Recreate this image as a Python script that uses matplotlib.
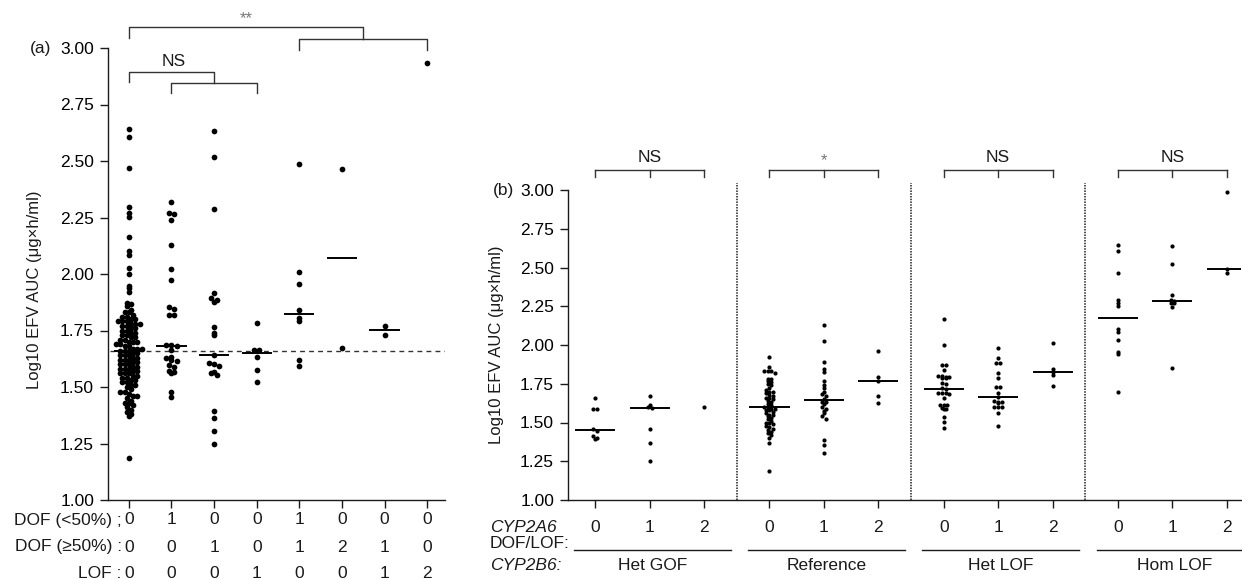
import numpy as np
import matplotlib.pyplot as plt
from matplotlib.transforms import blended_transform_factory

plt.rcParams['font.family'] = ['Liberation Sans', 'DejaVu Sans']
plt.rcParams['font.size'] = 12

# ---------------- panel (a): CYP2B6 DOF / LOF alleles ----------------
dof_lt50 = [0, 1, 0, 0, 1, 0, 0, 0]
dof_ge50 = [0, 0, 1, 0, 1, 2, 1, 0]
lof_cnt = [0, 0, 0, 1, 0, 0, 1, 2]
row_names = ['DOF (<50%) ;', 'DOF (\u226550%) :', 'LOF :']

a_vals = [
    # 0/0/0 (reference genotype)
    [2.64, 2.605, 2.468, 2.295, 2.271, 2.254, 2.165, 2.103, 2.084, 2.028, 2.0,
     1.948, 1.937, 1.920, 1.870, 1.867, 1.858,
     1.84, 1.83, 1.83, 1.82, 1.81, 1.81, 1.80, 1.80, 1.79, 1.79, 1.79, 1.78,
     1.78, 1.78, 1.77, 1.77, 1.76, 1.76, 1.75, 1.75, 1.74, 1.74, 1.73, 1.73,
     1.72, 1.72, 1.71, 1.71, 1.70, 1.70, 1.70, 1.69, 1.69, 1.68, 1.68, 1.67,
     1.67, 1.67, 1.66, 1.66, 1.66, 1.65, 1.65, 1.64, 1.64, 1.64, 1.63, 1.63,
     1.62, 1.62, 1.62, 1.61, 1.61, 1.60, 1.60, 1.60, 1.59, 1.59, 1.58, 1.58,
     1.58, 1.57, 1.57, 1.56, 1.56, 1.56, 1.55, 1.55, 1.54, 1.54, 1.53, 1.53,
     1.52, 1.52, 1.51, 1.51, 1.50, 1.49, 1.48, 1.48, 1.47, 1.46, 1.46, 1.45,
     1.44, 1.43, 1.43, 1.42, 1.41, 1.40, 1.39, 1.38, 1.37, 1.187],
    [2.317, 2.268, 2.264, 2.239, 2.128, 2.024, 1.973, 1.852, 1.843, 1.818, 1.818,
     1.686, 1.686, 1.68, 1.664, 1.634, 1.627, 1.62, 1.613, 1.597, 1.589, 1.572,
     1.568, 1.560, 1.479, 1.457],
    [2.634, 2.516, 2.286, 1.914, 1.893, 1.884, 1.875, 1.767, 1.740, 1.730, 1.640,
     1.605, 1.600, 1.595, 1.568, 1.560, 1.553, 1.395, 1.362, 1.305, 1.248],
    [1.781, 1.665, 1.665, 1.633, 1.577, 1.522],
    [2.485, 2.008, 1.957, 1.840, 1.807, 1.791, 1.618, 1.595],
    [2.465, 1.673],
    [1.769, 1.732],
    [2.932],
]

# ---------------- panel (b): CYP2A6 x CYP2B6 ----------------
b_groups = ['Het GOF', 'Reference', 'Het LOF', 'Hom LOF']
cyp2a6 = [0, 1, 2]
b_sig = ['NS', '*', 'NS', 'NS']
b_vals = [
    [[1.656, 1.585, 1.585, 1.455, 1.445, 1.413, 1.40, 1.395],
     [1.671, 1.613, 1.602, 1.592, 1.458, 1.365, 1.253],
     [1.598]],
    [[1.921, 1.86, 1.835, 1.83, 1.83, 1.82, 1.78, 1.78, 1.77, 1.76, 1.75, 1.74,
      1.72, 1.71, 1.70, 1.70, 1.69, 1.68, 1.67, 1.66, 1.66, 1.65, 1.64, 1.63,
      1.62, 1.61, 1.60, 1.59, 1.59, 1.59, 1.58, 1.58, 1.57, 1.56, 1.55, 1.55,
      1.54, 1.53, 1.52, 1.51, 1.50, 1.50, 1.49, 1.48, 1.47, 1.46, 1.45, 1.44,
      1.43, 1.42, 1.40, 1.37, 1.19],
     [2.129, 2.028, 1.892, 1.843, 1.824, 1.77, 1.742, 1.72, 1.70, 1.685, 1.67,
      1.65, 1.635, 1.63, 1.62, 1.60, 1.59, 1.575, 1.56, 1.54, 1.525, 1.39,
      1.355, 1.305],
     [1.961, 1.792, 1.77, 1.67, 1.625]],
    [[2.166, 2.0, 1.871, 1.871, 1.839, 1.80, 1.80, 1.796, 1.796, 1.79, 1.79,
      1.753, 1.75, 1.72, 1.718, 1.69, 1.69, 1.69, 1.685, 1.656, 1.615, 1.615,
      1.61, 1.594, 1.59, 1.585, 1.534, 1.505, 1.462],
     [1.979, 1.915, 1.886, 1.882, 1.817, 1.785, 1.731, 1.727, 1.688, 1.667,
      1.64, 1.635, 1.63, 1.625, 1.602, 1.600, 1.598, 1.563, 1.48],
     [2.015, 1.843, 1.828, 1.806, 1.735]],
    [[2.645, 2.608, 2.467, 2.29, 2.27, 2.25, 2.103, 2.084, 2.03, 1.953, 1.942,
      1.695],
     [2.639, 2.52, 2.323, 2.29, 2.285, 2.269, 2.269, 2.243, 1.853],
     [2.989, 2.489, 2.467]],
]

W, H = 1242, 579
ink = '#1a1a1a'


def fx(px):
    return px / W


def fy(py):
    return 1 - py / H


def swarm(vals, bin_h, step):
    # Prism-like column scatter: points in the same value bin sit side by side
    vals = np.asarray(vals, dtype=float)
    bins = np.round(vals / bin_h).astype(int)
    offs = np.zeros(len(vals))
    for b in np.unique(bins):
        idx = np.where(bins == b)[0]
        offs[idx] = (np.arange(len(idx)) - (len(idx) - 1) / 2) * step
    return offs


def style_axis(ax):
    for s in ['top', 'right']:
        ax.spines[s].set_visible(False)
    for s in ['left', 'bottom']:
        ax.spines[s].set_color(ink)
        ax.spines[s].set_linewidth(1)
    ax.set_ylim(1.0, 3.0)
    ax.set_yticks(np.arange(1.0, 3.01, 0.25))
    ax.set_yticklabels(['%.2f' % v for v in np.arange(1.0, 3.01, 0.25)])
    ax.tick_params(direction='out', length=6, width=1, color=ink,
                   labelsize=12.5, pad=4)


fig = plt.figure(figsize=(W / 100, H / 100), dpi=100)

# ---------------- panel (a) ----------------
axA = fig.add_axes([fx(108), fy(500), fx(445 - 108), (500 - 48) / H])
style_axis(axA)
axA.set_xlim(-0.49, 7.42)
axA.set_xticks(range(len(a_vals)))
axA.set_xticklabels([])

for i, v in enumerate(a_vals):
    step = 0.1 if len(v) > 50 else 0.125
    xs = i + swarm(v, 0.021, step)
    axA.scatter(xs, v, s=17, color='black', linewidths=0, zorder=3)
    if len(v) > 1:
        m = np.median(v)
        axA.plot([i - 0.33, i + 0.33], [m, m], color='black', lw=1.4, zorder=4)

ref_med = np.median(a_vals[0])
axA.plot([-0.45, 7.42], [ref_med, ref_med], color='#333333', lw=1,
         linestyle=(0, (3.5, 3)), zorder=2)

# significance brackets
bk = dict(color='#333333', lw=1, clip_on=False)
axA.plot([0, 0, 5.5, 5.5], [3.044, 3.094, 3.094, 3.04], **bk)
axA.plot([4, 4, 7, 7], [2.991, 3.04, 3.04, 2.991], **bk)
axA.text(2.75, 3.13, '**', ha='center', va='center', fontsize=12, color='#777777')
axA.plot([0, 0, 2, 2], [2.85, 2.892, 2.892, 2.845], **bk)
axA.plot([1, 1, 3, 3], [2.80, 2.845, 2.845, 2.80], **bk)
axA.text(1.05, 2.94, 'NS', ha='center', va='center', fontsize=12.5, color=ink)

blendA = blended_transform_factory(axA.transData, fig.transFigure)
for r, (name, row) in enumerate(zip(row_names, [dof_lt50, dof_ge50, lof_cnt])):
    yy = fy([520, 547, 573][r])
    axA.text(-0.17, yy, name, transform=blendA, ha='right', va='center',
             fontsize=12.5, color=ink)
    for i, v in enumerate(row):
        axA.text(i, yy, str(v), transform=blendA, ha='center', va='center',
                 fontsize=12.5, color=ink)

fig.text(fx(35), fy(290), 'Log10 EFV AUC (\u03bcg\u00d7h/ml)', rotation=90,
         ha='center', va='center', fontsize=12, color=ink)
fig.text(fx(30), fy(48), '(a)', ha='left', va='center', fontsize=12.5, color=ink)

# ---------------- panel (b) ----------------
gap = 3.2
axB = fig.add_axes([fx(568), fy(500), fx(1241 - 568), (500 - 190) / H])
style_axis(axB)
axB.set_xlim(-0.5, 11.86)
pos = [g * gap + k for g in range(len(b_groups)) for k in range(len(cyp2a6))]
axB.set_xticks(pos)
axB.set_xticklabels([])

blendB = blended_transform_factory(axB.transData, fig.transFigure)
for g, grp in enumerate(b_vals):
    base = g * gap
    for k, v in enumerate(grp):
        x0 = base + k
        xs = x0 + swarm(v, 0.021, 0.068)
        axB.scatter(xs, v, s=9, color='black', linewidths=0, zorder=3)
        if len(v) > 1:
            m = np.median(v)
            axB.plot([x0 - 0.35, x0 + 0.35], [m, m], color='black', lw=1.4,
                     zorder=4)
        axB.text(x0, fy(527), str(cyp2a6[k]), transform=blendB, ha='center',
                 va='center', fontsize=12.5, color=ink)
    # bracket across the three CYP2A6 groups
    axB.plot([base, base + 2], [3.129, 3.129], **bk)
    for k in range(3):
        axB.plot([base + k, base + k], [3.084, 3.129], **bk)
    is_ns = b_sig[g] == 'NS'
    axB.text(base + 1, 3.21 if is_ns else 3.19, b_sig[g],
             ha='center', va='center', fontsize=12.5 if is_ns else 12,
             color=ink if is_ns else '#777777')
    if g < len(b_groups) - 1:
        axB.plot([base + 2.6, base + 2.6], [1.0, 3.045], color='#222222',
                 lw=1.1, linestyle=(0, (1, 0.8)), clip_on=False, zorder=1)
    # group line and CYP2B6 group name
    c = base + 1.05
    axB.plot([c - 1.44, c + 1.44], [fy(550), fy(550)], transform=blendB,
             color=ink, lw=1, clip_on=False)
    axB.text(c, fy(566), b_groups[g], transform=blendB, ha='center',
             va='center', fontsize=12.5, color=ink)

fig.text(fx(490), fy(527), 'CYP2A6', style='italic', ha='left', va='center',
         fontsize=12.5, color=ink)
fig.text(fx(490), fy(543), 'DOF/LOF:', ha='left', va='center', fontsize=12.5,
         color=ink)
fig.text(fx(490), fy(566), 'CYP2B6:', style='italic', ha='left', va='center',
         fontsize=12.5, color=ink)
fig.text(fx(497), fy(345), 'Log10 EFV AUC (\u03bcg\u00d7h/ml)', rotation=90,
         ha='center', va='center', fontsize=12, color=ink)
fig.text(fx(493), fy(190), '(b)', ha='left', va='center', fontsize=12.5, color=ink)

fig.savefig('out.png', dpi=100, facecolor='white')
